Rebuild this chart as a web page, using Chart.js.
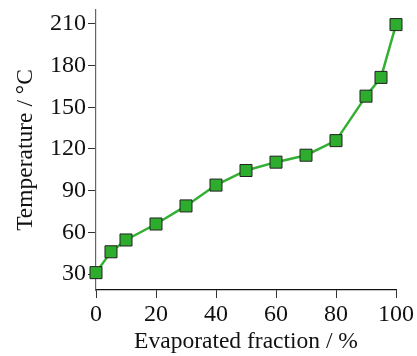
<!DOCTYPE html>
<html>
<head>
<meta charset="utf-8">
<script src="https://cdn.jsdelivr.net/npm/chart.js@4"></script>
<style>
  html, body { margin: 0; padding: 0; background: #fff; }
  #wrap { width: 417px; height: 356px; }
</style>
</head>
<body>
<div id="wrap"><canvas id="c"></canvas></div>
<script>
// Distillation curve: boiling temperature vs evaporated fraction.
const fraction = [0, 5, 10, 20, 30, 40, 50, 60, 70, 80, 90, 95, 100];
const temperature = [31, 46, 54.5, 66, 79, 94, 104.5, 110.5, 115.5, 126, 158, 171.5, 209.5];
const xTicks = [0, 20, 40, 60, 80, 100];
const yTicks = [30, 60, 90, 120, 150, 180, 210];

const serif = "'Liberation Serif', 'DejaVu Serif', serif";
const axisColor = "#333";

new Chart(document.getElementById("c"), {
  type: "line",
  data: {
    datasets: [{
      data: fraction.map((x, i) => ({ x, y: temperature[i] })),
      borderColor: "#33b033",
      borderWidth: 2.5,
      backgroundColor: "#2eac2e",
      pointStyle: "rect",
      pointRadius: 8.5,
      pointHoverRadius: 8.5,
      pointBorderColor: "#222",
      pointBorderWidth: 1,
      tension: 0,
      clip: false,
    }],
  },
  options: {
    responsive: true,
    maintainAspectRatio: false,
    animation: false,
    layout: { padding: { top: 10, right: 21, left: 12, bottom: 0 } },
    plugins: { legend: { display: false }, tooltip: { enabled: false } },
    scales: {
      x: {
        type: "linear",
        min: 0,
        max: 100,
        afterBuildTicks: (s) => { s.ticks = xTicks.map((v) => ({ value: v })); },
        afterFit: (s) => { s.height = 66; },
        grid: { drawOnChartArea: false, drawTicks: true, tickLength: 8, color: axisColor },
        border: { display: true, color: "#111", width: 1.2 },
        ticks: { color: "#111", font: { family: serif, size: 24 }, padding: 2, maxRotation: 0 },
        title: {
          display: true,
          text: "Evaporated fraction / %",
          color: "#111",
          font: { family: serif, size: 23.5 },
          padding: { top: 3, bottom: 0 },
        },
      },
      y: {
        type: "linear",
        min: 18.5,
        max: 220,
        afterBuildTicks: (s) => { s.ticks = yTicks.map((v) => ({ value: v })); },
        // fixed width; drop the label overhang padding so the axis top sits at the layout padding
        afterFit: (s) => { s.width = 84; s.paddingTop = 0; },
        grid: { drawOnChartArea: false, drawTicks: true, tickLength: 8, color: axisColor },
        border: { display: true, color: "#666", width: 1.2 },
        ticks: { color: "#111", font: { family: serif, size: 24 }, padding: 2 },
        title: {
          display: true,
          text: "Temperature / °C",
          color: "#111",
          font: { family: serif, size: 23.5 },
          padding: { top: 0, bottom: 0 },
        },
      },
    },
  },
});
</script>
</body>
</html>
